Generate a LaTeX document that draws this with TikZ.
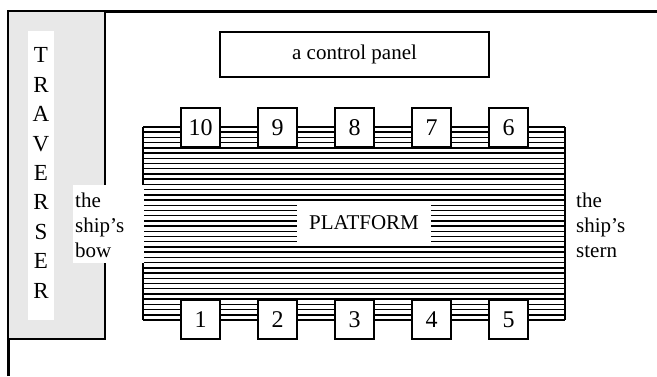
\documentclass[tikz,border=0pt]{standalone}
\usepackage{fontspec}
\setmainfont{Liberation Serif}
\begin{document}
\begin{tikzpicture}[x=1pt,y=-1pt,
  font=\fontsize{21}{25}\selectfont,
  frameline/.style={line width=2.5pt},
  boxline/.style={line width=1.3pt},
  hatch/.style={line width=1.45pt},
  numbox/.style={draw, line width=1.3pt, fill=white, minimum width=39pt, minimum height=39pt, inner sep=0pt, font=\fontsize{24}{28}\selectfont},
  whitebox/.style={fill=white, inner sep=0pt}]
\useasboundingbox (0,0) rectangle (657,376);
% outer frame
\draw[frameline] (8.5,376) -- (8.5,11.5) -- (657,11.5);
% traverser
\draw[boxline, fill=gray!18] (8.5,11.5) rectangle (105,339);
\node[whitebox, minimum width=26pt, minimum height=289pt] (strip) at (41,175.5) {};
\node[inner sep=0pt, align=center, font=\fontsize{23}{29.4}\selectfont] (trav) at (41,173) {T\\R\\A\\V\\E\\R\\S\\E\\R};
% control panel
\node[draw, boxline, fill=white, minimum width=269pt, minimum height=45pt, inner sep=0pt] (panel) at (354.5,54.5) {a control panel};
% platform hatch
\foreach \i in {0,...,37} {
  \draw[hatch] (143,127+\i*5.2162) -- (565,127+\i*5.2162);
}
\draw[boxline] (143,127) -- (143,320);
\draw[boxline] (565,127) -- (565,320);
\draw[line width=2.5pt] (143,320) -- (565,320);
\node[whitebox, minimum width=134pt, minimum height=39pt] (platform) at (364,222.5) {PLATFORM};
% numbered boxes
\node[numbox] (n10) at (200.5,127.5) {10};
\node[numbox] (n9) at (277.5,127.5) {9};
\node[numbox] (n8) at (354.5,127.5) {8};
\node[numbox] (n7) at (431.5,127.5) {7};
\node[numbox] (n6) at (508.5,127.5) {6};
\node[numbox] (n1) at (200.5,319.5) {1};
\node[numbox] (n2) at (277.5,319.5) {2};
\node[numbox] (n3) at (354.5,319.5) {3};
\node[numbox] (n4) at (431.5,319.5) {4};
\node[numbox] (n5) at (508.5,319.5) {5};
% bow / stern labels
\node[whitebox, minimum width=71pt, minimum height=78pt] (bowbox) at (108.2,223.5) {};
\node[inner sep=0pt, align=left, anchor=west] (bow) at (75,225) {the\\ship’s\\bow};
\node[inner sep=0pt, align=left, anchor=west] (stern) at (576,225) {the\\ship’s\\stern};
\end{tikzpicture}
\end{document}
